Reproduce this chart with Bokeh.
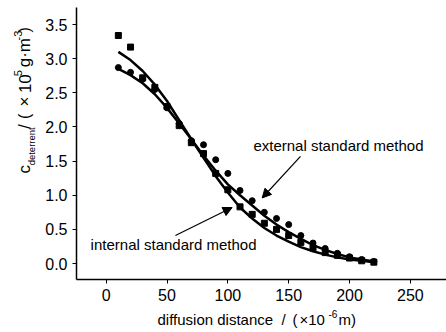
import math
from bokeh.plotting import figure
from bokeh.layouts import column, row
from bokeh.models import Range1d, FixedTicker, PrintfTickFormatter, Label, Arrow, NormalHead
from bokeh.embed import file_html
from bokeh.resources import INLINE

# measured data (x in 1e-6 m, c in 1e5 g/m^3)
dist = [10, 20, 30, 40, 50, 60, 70, 80, 90, 100, 110, 120, 130, 140, 150, 160, 170, 180, 190, 200, 210, 220]
internal_pts = [3.34, 3.17, 2.72, 2.58, 2.30, 2.02, 1.77, 1.61, 1.32, 1.08, 0.83, 0.72, 0.59, 0.50, 0.41, 0.31, 0.23, 0.16, 0.12, 0.08, 0.04, 0.02]
external_pts = [2.87, 2.80, 2.70, 2.55, 2.28, 2.05, 1.80, 1.74, 1.52, 1.32, 1.07, 0.92, 0.75, 0.66, 0.57, 0.41, 0.30, 0.22, 0.15, 0.10, 0.06, 0.03]
internal_fit = [3.10, 2.98, 2.82, 2.62, 2.38, 2.10, 1.82, 1.55, 1.28, 1.04, 0.82, 0.66, 0.52, 0.41, 0.32, 0.24, 0.18, 0.13, 0.09, 0.06, 0.04, 0.02]
external_fit = [2.85, 2.76, 2.64, 2.48, 2.28, 2.05, 1.82, 1.58, 1.36, 1.16, 1.00, 0.85, 0.70, 0.57, 0.46, 0.36, 0.27, 0.20, 0.14, 0.09, 0.06, 0.03]
x_ticks = [0, 50, 100, 150, 200, 250]
y_ticks = [0.0, 0.5, 1.0, 1.5, 2.0, 2.5, 3.0, 3.5]

FONT = "Liberation Sans"
W, H = 446, 332
LW = 40          # width of the y-label strip
MH = 305         # height of the main figure
BH = H - MH      # height of the x-label strip

p = figure(width=W - LW, height=MH, output_backend="svg", toolbar_location=None,
           x_range=Range1d(-24.4, 279.7), y_range=Range1d(-0.234, 3.75),
           min_border_left=76 - LW, min_border_right=0, min_border_top=7, min_border_bottom=MH - 279)
p.outline_line_color = None
p.xgrid.visible = False
p.ygrid.visible = False
p.background_fill_color = "white"
p.border_fill_color = "white"

for ax in (p.xaxis[0], p.yaxis[0]):
    ax.axis_line_color = "black"
    ax.axis_line_width = 1.5
    ax.major_tick_line_color = "black"
    ax.major_tick_out = 4
    ax.major_tick_in = 0
    ax.minor_tick_line_color = None
    ax.major_label_text_font = FONT
    ax.major_label_text_font_size = "16px"
    ax.major_label_text_color = "black"
    ax.major_label_standoff = 5

p.xaxis.ticker = FixedTicker(ticks=x_ticks)
p.yaxis.ticker = FixedTicker(ticks=y_ticks)
p.yaxis.formatter = PrintfTickFormatter(format="%.1f")

p.line(dist, internal_fit, line_color="black", line_width=2.5)
p.line(dist, external_fit, line_color="black", line_width=2.5)
p.scatter(dist, internal_pts, marker="square", size=6, fill_color="black", line_color="black")
p.scatter(dist, external_pts, marker="circle", size=6, fill_color="black", line_color="black")

def txt(fig, x, y, s, size=15, angle=0.0, align="left", baseline="middle"):
    fig.add_layout(Label(x=x, y=y, text=s, text_font=FONT, text_font_size=f"{size}px",
                         text_color="black", angle=angle, text_align=align, text_baseline=baseline))

# annotations
txt(p, 121, 1.73, "external standard method")
txt(p, -12.8, 0.28, "internal standard method")
p.add_layout(Arrow(x_start=159.7, y_start=1.57, x_end=128.2, y_end=0.96,
                   line_color="black", line_width=1.2,
                   end=NormalHead(size=9, fill_color="black", line_color="black")))
p.add_layout(Arrow(x_start=56.9, y_start=0.41, x_end=103.5, y_end=0.82,
                   line_color="black", line_width=1.2,
                   end=NormalHead(size=9, fill_color="black", line_color="black")))

def strip(w, h, y_top):
    f = figure(width=w, height=h, output_backend="svg", toolbar_location=None,
               x_range=Range1d(0, w), y_range=Range1d(y_top + h, y_top),
               x_axis_location=None, y_axis_location=None, min_border=0)
    f.outline_line_color = None
    f.xgrid.visible = False
    f.ygrid.visible = False
    f.border_fill_color = "white"
    f.background_fill_color = "white"
    return f

# y-axis label strip (coordinates: pixels from the top-left of the page)
yl = strip(LW, MH, 0)
a = math.pi / 2
txt(yl, 24, 186, "c", size=17, angle=a)
txt(yl, 30.5, 177, "deterrent", size=9.5, angle=a)
txt(yl, 24, 136, "/", size=16, angle=a)
txt(yl, 24, 125, "(", size=16, angle=a)
txt(yl, 24, 111, "\u00d7", size=17, angle=a)
txt(yl, 24, 96, "10", size=17, angle=a)
txt(yl, 17.5, 77, "5", size=11, angle=a)
txt(yl, 24, 67, "g\u00b7m", size=17, angle=a)
txt(yl, 17.5, 37, "-3", size=11, angle=a)
txt(yl, 24, 28, ")", size=16, angle=a)

# x-axis label strip
xl = strip(W, BH, MH)
yb = 319
txt(xl, 157, yb, "diffusion distance")
txt(xl, 281, yb, "/")
txt(xl, 292, yb, "(")
txt(xl, 299, yb, "\u00d710")
txt(xl, 328, yb - 6, "-6", size=10)
txt(xl, 338, yb, "m)")

layout = column(row(yl, p, spacing=0), xl, spacing=0)
open("out.html", "w").write(file_html(layout, INLINE))
